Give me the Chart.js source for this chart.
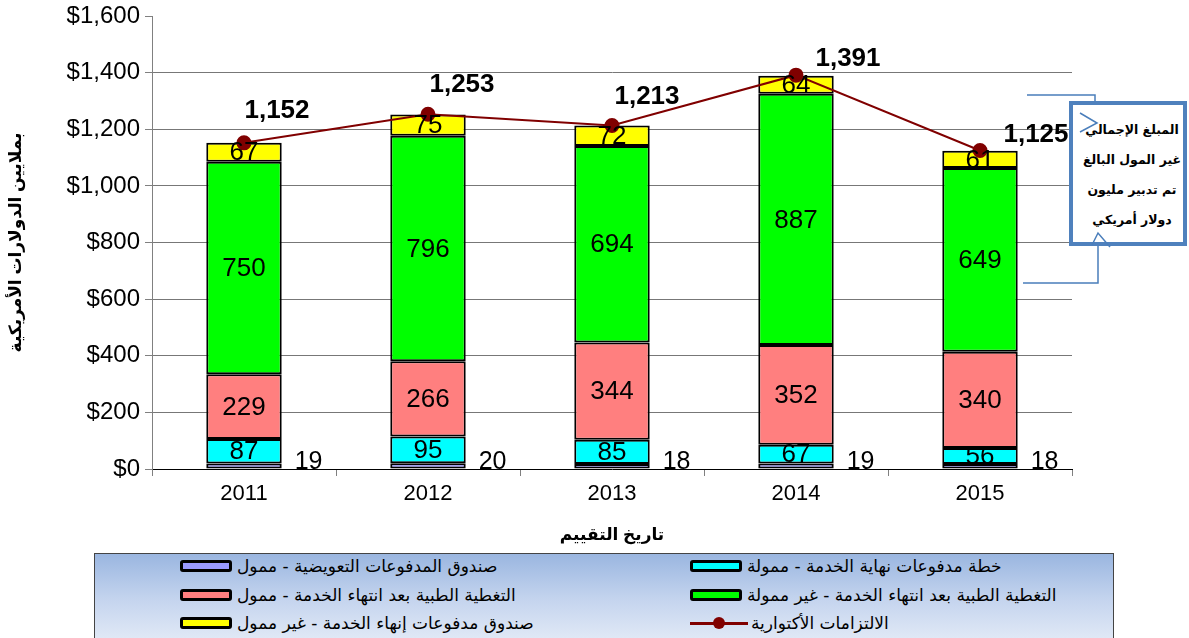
<!DOCTYPE html>
<html>
<head>
<meta charset="utf-8">
<script src="https://cdn.jsdelivr.net/npm/chart.js@4.4.1/dist/chart.umd.min.js"></script>
<style>
  html, body { margin: 0; padding: 0; background: #fff; }
  #wrap { position: relative; width: 1189px; height: 638px; overflow: hidden; }
  #c { position: absolute; left: 0; top: 0; }
  #legend { position: absolute; left: 94px; top: 553px; width: 1020px; height: 92px;
    border: 1px solid #444; box-sizing: border-box;
    background: linear-gradient(to bottom, #9ab6e0 0%, #c4d4ee 50%, #e4ebf7 100%); }
  .item { position: absolute; display: flex; align-items: center; height: 24px; }
  .sw { width: 46px; height: 6px; border: 3px solid #000; border-radius: 3px; margin-right: 5px; }
  .lsw { position: relative; width: 58px; height: 14px; margin-right: 3px; }
  .lsw .ln { position: absolute; left: 0; right: 0; top: 6px; height: 3px; background: #800000; }
  .lsw .dt { position: absolute; left: 23px; top: 1px; width: 12px; height: 12px; border-radius: 50%; background: #800000; }
  .txt { font-family: "DejaVu Sans", "Liberation Sans", sans-serif; font-size: 17px; color: #000; direction: rtl; white-space: nowrap; }
  #callout { position: absolute; left: 1069px; top: 101px; width: 118px; height: 145px; box-sizing: border-box;
    border: 4px solid #4f81bd; background: #fff; padding: 10px 0 0 8px; text-align: center; }
  #callout div { font-family: "DejaVu Sans", sans-serif; font-weight: bold; font-size: 12.5px; line-height: 30px; height: 30px; direction: rtl; white-space: nowrap; color: #000; }
</style>
</head>
<body>
<div id="wrap">
  <canvas id="c" width="1189" height="638"></canvas>
  <div id="legend"></div>
  <svg width="1189" height="638" style="position:absolute;left:0;top:0;pointer-events:none">
    <polyline points="1027,95 1095,95 1095,123" fill="none" stroke="#4a7ebb" stroke-width="1.5"/>
    <polyline points="1023,283 1098,283 1098,233" fill="none" stroke="#4a7ebb" stroke-width="1.5"/>
  </svg>
  <div id="callout">
    <div>المبلغ الإجمالي</div>
    <div>غير المول البالغ</div>
    <div>تم تدبير مليون</div>
    <div>دولار أمريكي</div>
  </div>
  <svg width="1189" height="638" style="position:absolute;left:0;top:0;pointer-events:none">
    <polyline points="1080,113 1097,123 1080,132" fill="none" stroke="#4a7ebb" stroke-width="1.5"/>
    <polyline points="1092,245 1098,233 1110,247" fill="none" stroke="#4a7ebb" stroke-width="1.5"/>
  </svg>
</div>
<script>
// ---- data ----
const categories = ['2011', '2012', '2013', '2014', '2015'];
const compensationFundFunded = [19, 20, 18, 19, 18];
const endOfServiceFunded = [87, 95, 85, 67, 56];
const asmhiFunded = [229, 266, 344, 352, 340];
const asmhiUnfunded = [750, 796, 694, 887, 649];
const terminationFundUnfunded = [67, 75, 72, 64, 61];
const actuarialLiabilities = [1152, 1253, 1213, 1391, 1125];
const seriesNames = [
  'صندوق المدفوعات التعويضية - ممول',
  'خطة مدفوعات نهاية الخدمة - ممولة',
  'التغطية الطبية بعد انتهاء الخدمة - ممول',
  'التغطية الطبية بعد انتهاء الخدمة - غير ممولة',
  'صندوق مدفوعات إنهاء الخدمة - غير ممول',
  'الالتزامات الأكتوارية'
];
const yAxisTitle = 'بملايين الدولارات الأمريكية';
const xAxisTitle = 'تاريخ التقييم';

// styling (kept apart from the data)
const barColors = ['#9999ff', '#00ffff', '#ff7f7f', '#00ff00', '#ffff00'];
const lineColor = '#800000';
const totalLabelOffsets = [[33, -32], [34, -29], [35, -29], [52, -16], [56, -16]];
const LATIN = '"Liberation Sans", Arial, sans-serif';
const ARABIC = '"Liberation Sans", "DejaVu Sans", sans-serif';

const barSeries = [compensationFundFunded, endOfServiceFunded, asmhiFunded, asmhiUnfunded, terminationFundUnfunded];
const datasets = barSeries.map((d, i) => ({
  type: 'bar',
  label: seriesNames[i],
  data: d,
  backgroundColor: barColors[i],
  borderColor: '#000',
  borderWidth: 2,
  borderSkipped: false,
  stack: 'bars',
  order: 2,
  categoryPercentage: 1.0,
  barPercentage: 0.41
}));
datasets.push({
  type: 'line',
  label: seriesNames[5],
  data: actuarialLiabilities,
  borderColor: lineColor,
  backgroundColor: lineColor,
  borderWidth: 2,
  pointRadius: 6.5,
  pointBackgroundColor: lineColor,
  pointBorderColor: lineColor,
  stack: 'line',
  order: 1,
  tension: 0
});

const labelPlugin = {
  id: 'valueLabels',
  afterDatasetsDraw(chart) {
    const ctx = chart.ctx;
    ctx.save();
    ctx.fillStyle = '#000';
    for (let i = 0; i < barSeries.length; i++) {
      const meta = chart.getDatasetMeta(i);
      meta.data.forEach((bar, j) => {
        const p = bar.getProps(['x', 'y', 'base', 'width'], true);
        const v = barSeries[i][j];
        if (i === 0) {
          ctx.font = '25px ' + LATIN;
          ctx.textAlign = 'left';
          ctx.textBaseline = 'alphabetic';
          ctx.fillText(String(v), p.x + p.width / 2 + 13, p.base);
        } else {
          ctx.font = '26px ' + LATIN;
          ctx.textAlign = 'center';
          ctx.textBaseline = 'middle';
          ctx.fillText(String(v), p.x, (p.y + p.base) / 2 + 1);
        }
      });
    }
    const lmeta = chart.getDatasetMeta(5);
    lmeta.data.forEach((pt, j) => {
      const off = totalLabelOffsets[j];
      ctx.font = 'bold 26px ' + LATIN;
      ctx.textAlign = 'center';
      ctx.textBaseline = 'middle';
      ctx.fillText(actuarialLiabilities[j].toLocaleString('en-US'), pt.x + off[0], pt.y + off[1]);
    });
    ctx.restore();
  }
};

new Chart(document.getElementById('c'), {
  data: { labels: categories, datasets },
  options: {
    responsive: false,
    animation: false,
    devicePixelRatio: 1,
    layout: { padding: { left: 0, right: 117, top: 16, bottom: 90 } },
    plugins: { legend: { display: false }, tooltip: { enabled: false } },
    scales: {
      x: {
        stacked: true,
        offset: true,
        grid: { offset: true, drawOnChartArea: false, drawTicks: true, tickLength: 7, color: '#808080' },
        border: { color: '#000', width: 1 },
        ticks: { color: '#000', font: { family: LATIN, size: 22 }, padding: 5 },
        title: { display: true, text: xAxisTitle, color: '#000', font: { family: ARABIC, size: 17, weight: 'bold' }, padding: { top: 4, bottom: 2 } },
        afterFit(scale) { scale.height = 79; }
      },
      y: {
        stacked: true,
        min: 0,
        max: 1600,
        ticks: { stepSize: 200, color: '#000', font: { family: LATIN, size: 24 }, padding: 5,
          callback: v => '$' + Number(v).toLocaleString('en-US') },
        grid: {
          color: c => (c.tick && (c.tick.value === 1600 || c.tick.value === 0)) ? 'rgba(0,0,0,0)' : '#777777',
          tickColor: '#808080', tickLength: 7, lineWidth: 1
        },
        border: { color: '#808080', width: 1 },
        title: { display: true, text: yAxisTitle, color: '#000', font: { family: ARABIC, size: 17, weight: 'bold' }, padding: { top: 6, bottom: 0 } },
        afterFit(scale) { scale.width = 152; scale.paddingTop = 0; scale.paddingBottom = 0; }
      }
    }
  },
  plugins: [labelPlugin]
});

// ---- HTML legend built from the dataset names ----
const legend = document.getElementById('legend');
const colX = [85, 595];
const rowY = [0, 29, 57];
seriesNames.forEach((name, i) => {
  const item = document.createElement('div');
  item.className = 'item';
  item.style.left = colX[i % 2] + 'px';
  item.style.top = rowY[Math.floor(i / 2)] + 'px';
  const sw = document.createElement('div');
  if (i < 5) {
    sw.className = 'sw';
    sw.style.background = barColors[i];
  } else {
    sw.className = 'lsw';
    sw.innerHTML = '<div class="ln"></div><div class="dt"></div>';
  }
  item.appendChild(sw);
  const t = document.createElement('span');
  t.className = 'txt';
  t.textContent = name;
  item.appendChild(t);
  legend.appendChild(item);
});
</script>
</body>
</html>
